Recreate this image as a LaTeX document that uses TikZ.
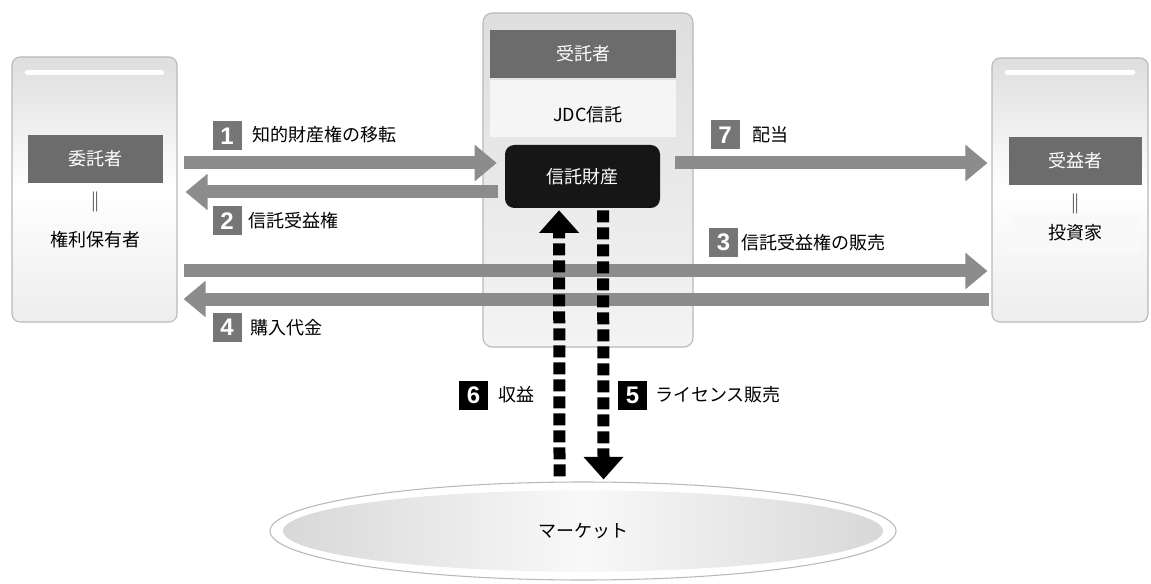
\documentclass[tikz,border=0pt]{standalone}
\usepackage{fontspec}
\setmainfont{Noto Sans CJK JP}
\newfontfamily\numfont{Liberation Sans}
\usetikzlibrary{arrows.meta,shapes.geometric,calc}
\definecolor{arrgray}{RGB}{140,140,140}
\definecolor{labgray}{RGB}{108,108,108}
\definecolor{numgray}{RGB}{118,118,118}
\definecolor{boxedge}{RGB}{185,185,185}
\definecolor{assetblack}{RGB}{22,22,22}
\begin{document}
\begin{tikzpicture}[x=0.75pt,y=-0.75pt,
  font=\fontsize{13.5pt}{16pt}\selectfont,
  sidebox/.style={draw=boxedge, line width=0.8pt, rounded corners=6pt,
    top color=gray!26, bottom color=gray!14, middle color=white, inner sep=0pt},
  centerbox/.style={draw=boxedge, line width=0.8pt, rounded corners=7pt,
    top color=gray!26, bottom color=gray!9, inner sep=0pt},
  role/.style={fill=labgray, text=white, minimum height=36pt, inner sep=0pt},
  asset/.style={fill=assetblack, text=white, rounded corners=7pt, inner sep=0pt,
    minimum width=116.25pt, minimum height=47.25pt},
  numbox/.style={fill=numgray, text=white, minimum size=21.75pt, inner sep=0pt,
    font=\numfont\bfseries\fontsize{18pt}{18pt}\selectfont},
  blknum/.style={numbox, fill=black},
  lbl/.style={anchor=west, inner sep=0pt},
  eqsign/.style={font=\fontsize{15pt}{15pt}\selectfont\bfseries, text=gray!55!black},
  garrow/.style={draw=arrgray, line width=9.75pt,
    -{Triangle[length=16.5pt,width=26.25pt]}},
  dasharrow/.style={draw=black, line width=9pt, dash pattern=on 9pt off 3.75pt,
    -{Triangle[length=17pt,width=29pt]}}
]
\fill[white] (0,0) rectangle (1151,584);
\useasboundingbox (0,0) rectangle (1151,584);

% side boxes
\node[sidebox, minimum width=123.75pt, minimum height=198.75pt] (left) at (94.5,189.5) {};
\node[sidebox, minimum width=117pt, minimum height=198pt] (right) at (1070,190) {};
\draw[white, line width=3.75pt, line cap=round]
  ([xshift=12pt,yshift=-12pt]left.north west) -- ([xshift=-12pt,yshift=-12pt]left.north east);
\draw[white, line width=3.75pt, line cap=round]
  ([xshift=12pt,yshift=-11pt]right.north west) -- ([xshift=-12pt,yshift=-11pt]right.north east);

% center box
\node[centerbox, minimum width=157.5pt, minimum height=250.5pt] (center) at (588,180) {};
\fill[gray!8] (490,80) rectangle (676,137);
\fill[gray!5] (1010,213) rectangle (1140,253);

% role labels
\node[role, minimum width=101.25pt] (settlor) at (95.5,159) {委託者};
\node[eqsign] (eqL) at (95,202) {‖};
\node (holder) at (95,240) {権利保有者};

\node[role, minimum width=99.75pt] (benef) at (1075.5,161) {受益者};
\node[eqsign] (eqR) at (1075,204) {‖};
\node (investor) at (1075,233) {投資家};

\node[role, minimum width=139.5pt] (trustee) at (583,54) {受託者};
\node (jdc) at (588,115) {JDC信託};
\node[asset] (asset) at (582.5,176.5) {信託財産};

% market
\node[ellipse, draw=gray!55, line width=0.8pt, fill=white, inner sep=0pt,
  minimum width=469.5pt, minimum height=73.5pt,
  path picture={\fill[left color=gray!32, right color=gray!32, middle color=gray!5]
    (path picture bounding box.center) ellipse [x radius=225pt, y radius=30.5pt];}]
  (market) at (583,531) {マーケット};

% horizontal arrows
\draw[garrow, shorten <=4.5pt, shorten >=6pt] (left.east |- 0,163) -- (asset.west |- 0,163);
\draw[garrow, shorten <=5pt, shorten >=6pt] (asset.west |- 0,192) -- (left.east |- 0,192);
\draw[garrow, shorten <=4.5pt, shorten >=3pt] (left.east |- 0,271) -- (right.west |- 0,271);
\draw[garrow, shorten <=1.5pt, shorten >=4.5pt] (right.west |- 0,299) -- (left.east |- 0,299);
\draw[garrow, shorten <=11.25pt, shorten >=3pt] (asset.east |- 0,163) -- (right.west |- 0,163);

% dashed vertical arrows
\draw[dasharrow] ([xshift=-17.6pt,yshift=3.75pt]market.north) -- ([xshift=-17.6pt,yshift=-1.5pt]asset.south);
\draw[dasharrow] ([xshift=15.4pt,yshift=-1.5pt]asset.south) -- ([xshift=15.4pt,yshift=1.5pt]market.north);

% number labels
\node[numbox] (n1) at (227,136) {1};
\node[lbl] (t1) at (252,135) {知的財産権の移転};
\node[numbox] (n2) at (227,221) {2};
\node[lbl] (t2) at (248,221) {信託受益権};
\node[numbox] (n3) at (723.5,242.5) {3};
\node[lbl] (t3) at (741,243) {信託受益権の販売};
\node[numbox] (n4) at (227,327.5) {4};
\node[lbl] (t4) at (250,328) {購入代金};
\node[numbox] (n7) at (725,135) {7};
\node[lbl] (t7) at (752,135) {配当};
\node[blknum] (n6) at (473.5,395.5) {6};
\node[lbl] (t6) at (498,395) {収益};
\node[blknum] (n5) at (632.5,395.5) {5};
\node[lbl] (t5) at (655,395) {ライセンス販売};
\end{tikzpicture}
\end{document}
